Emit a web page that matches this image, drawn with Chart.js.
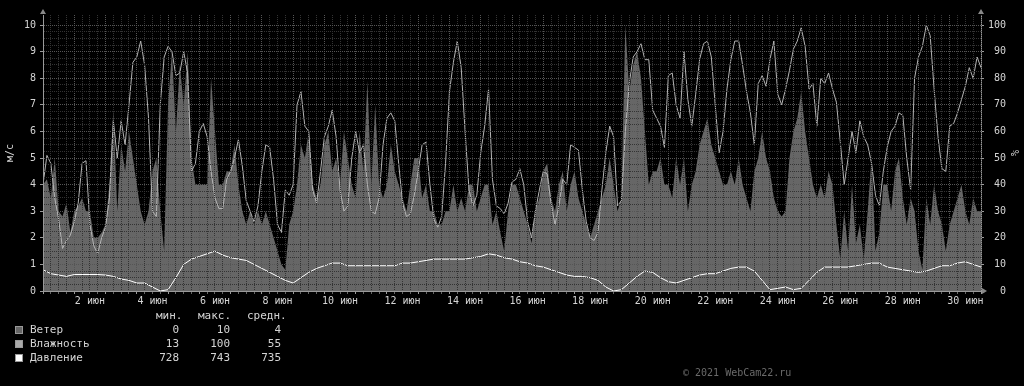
<!DOCTYPE html>
<html lang="ru">
<head>
<meta charset="utf-8">
<title>Погода - июнь</title>
<script src="https://cdn.jsdelivr.net/npm/chart.js"></script>
<style>
	html, body { margin: 0; padding: 0; background: #000; }
	#myChart { display: block; }
</style>
</head>
<body>
<canvas id="myChart" width="1024" height="386"></canvas>
<script>

// подписи оси времени (в днях от 1 июня 00:00, подпись в полдень)
const xTickPos  = [1.5, 3.5, 5.5, 7.5, 9.5, 11.5, 13.5, 15.5, 17.5, 19.5, 21.5, 23.5, 25.5, 27.5, 29.5];
const xTickText = ['2 июн','4 июн','6 июн','8 июн','10 июн','12 июн','14 июн','16 июн','18 июн','20 июн','22 июн','24 июн','26 июн','28 июн','30 июн'];

// ветер, м/с, шаг 3 часа
const windStep = 3;
const wind = [
	4,4.2,3.5,5,3,2.8,3.3,2.2,
	3,3.2,3.5,3,3,2,2,2.2,
	2.5,4,6.8,3,5.5,4.5,6,5,
	4,3,2.5,3,4.5,5,3,1.5,
	7,9,6,8.5,7,9,5,4,
	4,4,4,8,6,4,4,4.5,
	4.5,5.5,4,3,2.5,3,2.5,3,
	2.5,3,2.5,2,1.5,1,0.8,2.5,
	3,4,5.5,5,6,4,3.5,4,
	5.5,6,4.5,5,4,6,5,4,
	3.5,6,4.5,7.9,4,7,4,3.5,
	4,5.5,4.5,4,3.5,3,4,5,
	5,3.5,4,3,3,2.5,2.5,3,
	3,4,3,3.5,3,4,4,3,
	3.5,4,4,2.5,3,2.2,1.5,3,
	4,4,3.5,3,2.5,1.8,3,3.5,
	4.5,4.8,3.5,3,4,4.5,3,4,
	4.5,3.5,3,2.5,2,2.5,3,3.5,
	4,5,4,3,3.5,10,7.5,8.5,
	9,8,6,4,4.5,4.5,5,4,
	4,3.5,5,4,5,3,4,4.5,
	5.5,6,6.5,5.5,5,4.5,4,4,
	4.5,4,5,4,3.5,3,4.5,5,
	6,5,4.5,3.5,3,2.8,3,5,
	6,6.5,7.5,6,5,4,3.5,4,
	3.5,4.5,4,2.5,1.2,3,1.5,4,
	1.8,2.5,1.2,3,5,1.5,2.2,4,
	4,3,4.5,5,3.5,2.5,3.5,3,
	1.5,0.8,3.5,2.5,4,3,2.5,1.5,
	2.5,3,3.5,4,3,2.5,3.5,3,3
];

// влажность, %, шаг 3 часа
const humStep = 3;
const humidity = [
	40,51,48,35,27,16,19,21,
	26,33,48,49,25,17,14,20,
	24,35,64,50,64,55,70,86,
	88,94,85,65,30,28,70,88,
	92,90,81,82,90,82,45,48,
	60,63,58,45,35,31,31,42,
	45,50,57,47,34,30,26,32,
	45,55,54,42,25,22,38,36,
	40,70,75,62,60,38,33,45,
	58,62,68,58,38,30,32,50,
	60,52,55,40,30,29,35,55,
	65,67,64,48,33,28,29,36,
	45,55,56,40,27,24,28,48,
	75,86,94,84,60,38,32,36,
	52,62,76,42,32,31,29,33,
	41,42,46,40,26,20,30,38,
	45,44,33,25,32,42,40,55,
	54,53,38,26,20,19,22,38,
	52,62,58,32,34,60,78,88,
	90,93,87,87,68,65,62,54,
	81,82,70,65,90,72,62,74,
	87,93,94,88,70,52,60,76,
	87,94,94,85,75,67,55,78,
	81,77,87,94,74,70,76,83,
	91,94,99,92,76,78,62,80,
	78,82,76,71,56,40,50,60,
	52,64,58,55,48,36,32,45,
	54,60,62,67,66,50,38,80,
	88,92,100,96,76,58,46,45,
	62,63,67,72,77,84,80,88,84
];

// давление, мм рт. ст., шаг 6 часов
const pressStep = 6;
const pressure = [
	736,734.5,734,733.5,734.2,734.2,734.2,734.2,
	734,733.5,732.5,732,731,731,729.5,728,
	728.5,733,738,740,741,742,743,741.5,
	740.5,740,739.5,738,736.5,735,733.5,732,
	731,733,735,736.5,737.5,738.5,738.5,737.5,
	737.5,737.5,737.5,737.5,737.5,737.5,738.5,738.5,
	739,739.5,740,740,740,740,740,740.5,
	741,742,741.5,740.5,740,739,738.5,737.5,
	737,736,735,734,733.5,733.5,733,732,
	729.5,728,728.5,731,733.5,735.5,735,733,
	731.5,731,732,733,734,734.5,734.5,735.5,
	736.5,737,737,735.5,732,728.5,729,729.5,
	728.5,729,732,735,737,737,737,737,
	737.5,738,738.5,738.5,737,736.5,736,735.5,
	735,735.5,736.5,737.5,737.5,738.5,739,738,737
];

// легенда
const statNames = ['Ветер', 'Влажность', 'Давление'];
const statMin = [0, 13, 728];
const statMax = [10, 100, 743];
const statAvg = [4, 55, 735];
const statColors = ['#666666', '#aaaaaa', '#ffffff'];

const txtColor = '#d4d4d4';
const mono = '"DejaVu Sans Mono", monospace';

const extras = {
	id: 'extras',
	afterDraw(chart) {
		const ctx = chart.ctx;
		const a = chart.chartArea;
		ctx.save();
		// стрелки осей
		ctx.fillStyle = '#888';
		ctx.beginPath();
		ctx.moveTo(a.left - 3, a.top - 1); ctx.lineTo(a.left + 3, a.top - 1); ctx.lineTo(a.left, a.top - 6);
		ctx.fill();
		ctx.beginPath();
		ctx.moveTo(a.right - 3, a.top - 1); ctx.lineTo(a.right + 3, a.top - 1); ctx.lineTo(a.right, a.top - 6);
		ctx.fill();
		ctx.beginPath();
		ctx.moveTo(a.right + 1, a.bottom - 3); ctx.lineTo(a.right + 1, a.bottom + 3); ctx.lineTo(a.right + 6, a.bottom);
		ctx.fill();

		// легенда
		ctx.font = '11px ' + mono;
		ctx.textBaseline = 'middle';
		ctx.fillStyle = txtColor;
		ctx.textAlign = 'left';
		ctx.fillText('мин.', 156, 316);
		ctx.fillText('макс.', 198, 316);
		ctx.fillText('средн.', 247, 316);
		for (let i = 0; i < statNames.length; i++) {
			const y = 330 + i * 14;
			ctx.fillStyle = statColors[i];
			ctx.fillRect(15, y - 4, 8, 8);
			ctx.strokeStyle = '#999';
			ctx.lineWidth = 1;
			ctx.strokeRect(15.5, y - 3.5, 7, 7);
			ctx.fillStyle = txtColor;
			ctx.textAlign = 'left';
			ctx.fillText(statNames[i], 30, y);
			ctx.textAlign = 'right';
			ctx.fillText(String(statMin[i]), 179, y);
			ctx.fillText(String(statMax[i]), 230, y);
			ctx.fillText(String(statAvg[i]), 281, y);
		}

		ctx.font = '10px ' + mono;
		ctx.fillStyle = '#6a6a6a';
		ctx.textAlign = 'left';
		ctx.fillText('© 2021 WebCam22.ru', 683, 373);
		ctx.restore();
	}
};

const chart_data = {
	datasets: [
		{
			label: 'Давление',
			data: pressure.map((p, i) => ({ x: i * pressStep / 24, y: p - 728 })),
			yAxisID: 'y1',
			borderColor: '#ffffff',
			borderWidth: 1,
			pointRadius: 0,
			fill: false,
			order: 1
		},
		{
			label: 'Влажность',
			data: humidity.map((v, i) => ({ x: i * humStep / 24, y: v })),
			yAxisID: 'y1',
			borderColor: '#b4b4b4',
			borderWidth: 1,
			pointRadius: 0,
			fill: false,
			order: 2
		},
		{
			label: 'Ветер',
			data: wind.map((v, i) => ({ x: i * windStep / 24, y: v })),
			yAxisID: 'y',
			borderColor: '#666666',
			borderWidth: 0,
			backgroundColor: '#666666',
			pointRadius: 0,
			fill: 'origin',
			order: 3
		}
	]
};

const config = {
	type: 'line',
	data: chart_data,
	options: {
		responsive: false,
		animation: false,
		layout: { padding: { top: 15, left: 0, right: 0, bottom: 0 } },
		plugins: { legend: { display: false }, tooltip: { enabled: false } },
		scales: {
			x: {
				type: 'linear',
				min: 0, max: 30,
				afterBuildTicks: (s) => {
					const t = [];
					for (let k = 0; k <= 120; k++) t.push({ value: k * 0.25 });
					s.ticks = t;
				},
				afterFit: (s) => { s.height = 95; },
				ticks: {
					autoSkip: false, maxRotation: 0, padding: 1,
					color: txtColor, font: { family: mono, size: 10 },
					callback: (v) => {
						const i = xTickPos.indexOf(v);
						return i >= 0 ? xTickText[i] : '';
					}
				},
				grid: {
					z: 1,
					color: (c) => (c.tick && Number.isInteger(c.tick.value)) ? '#555' : '#333',
					tickColor: (c) => (c.tick && Number.isInteger(c.tick.value)) ? '#999' : '#666',
					tickLength: 3
				},
				border: { color: '#999', dash: [1, 1], z: 2 }
			},
			y: {
				position: 'left',
				min: 0, max: 10.38,
				afterBuildTicks: (s) => {
					const t = [];
					for (let k = 0; k <= 40; k++) t.push({ value: k * 0.25 });
					s.ticks = t;
				},
				afterFit: (s) => { s.width = 43; },
				ticks: {
					autoSkip: false, padding: 4,
					color: txtColor, font: { family: mono, size: 10 },
					callback: (v) => Number.isInteger(v) ? String(v) : ''
				},
				title: { display: true, text: 'м/с', color: txtColor, font: { family: mono, size: 10 }, padding: 4 },
				grid: {
					z: 1,
					color: (c) => (c.tick && Number.isInteger(c.tick.value)) ? '#555' : '#333',
					tickColor: (c) => (c.tick && Number.isInteger(c.tick.value)) ? '#999' : 'rgba(0,0,0,0)',
					tickLength: 3
				},
				border: { color: '#999', dash: [1, 1], z: 2 }
			},
			y1: {
				position: 'right',
				min: 0, max: 103.8,
				afterBuildTicks: (s) => {
					const t = [];
					for (let k = 0; k <= 10; k++) t.push({ value: k * 10 });
					s.ticks = t;
				},
				afterFit: (s) => { s.width = 43; },
				ticks: {
					autoSkip: false, padding: 4,
					color: txtColor, font: { family: mono, size: 10 },
					callback: (v) => String(v).padStart(3, ' ')
				},
				title: { display: true, text: '%', color: txtColor, font: { family: mono, size: 10 }, padding: 4 },
				grid: { drawOnChartArea: false, tickColor: '#999', tickLength: 3 },
				border: { color: '#999' }
			}
		}
	},
	plugins: [extras]
};

var myChart = new Chart(document.getElementById('myChart'), config);
</script>
</body>
</html>
